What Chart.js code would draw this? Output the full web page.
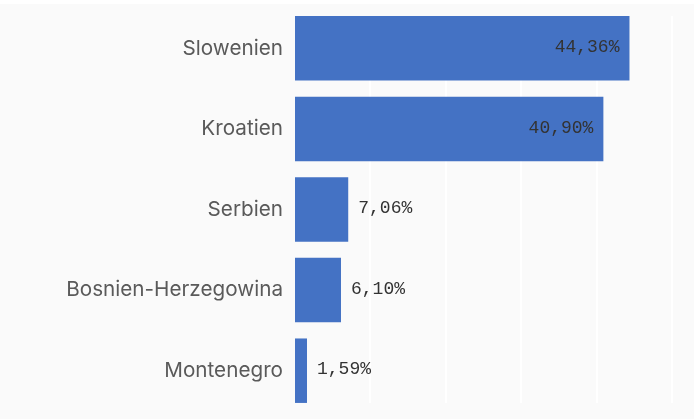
<!DOCTYPE html>
<html>
<head>
<meta charset="utf-8">
<script src="https://cdn.jsdelivr.net/npm/chart.js@4"></script>
<style>
  html, body { margin: 0; padding: 0; background: #ffffff; }
  #wrap { width: 694px; height: 419px; position: relative; }
</style>
</head>
<body>
<div id="wrap"><canvas id="myBarChart"></canvas></div>
<script>
"use strict";

// Countries and their share in percent
const countries = ["Slowenien", "Kroatien", "Serbien", "Bosnien-Herzegowina", "Montenegro"];
const shares = [44.36, 40.90, 7.06, 6.10, 1.59];
const axisTicks = [0, 10, 20, 30, 40, 50];

// Light grey background below a thin white strip
const backgroundPlugin = {
	id: "background",
	beforeDraw(chart) {
		const ctx = chart.ctx;
		ctx.save();
		ctx.fillStyle = "#fafafa";
		ctx.fillRect(0, 4, chart.width, chart.height - 4);
		ctx.restore();
	},
};

// White vertical grid lines, only as tall as the bars reach
const gridPlugin = {
	id: "softGrid",
	beforeDatasetsDraw(chart) {
		const ctx = chart.ctx;
		const bars = chart.getDatasetMeta(0).data;
		const top = bars[0].y - bars[0].height / 2;
		const last = bars[bars.length - 1];
		const bottom = last.y + last.height / 2;
		const xScale = chart.scales.x;
		ctx.save();
		ctx.strokeStyle = "#ffffff";
		ctx.lineWidth = 2;
		axisTicks.forEach(function (t) {
			if (t === 0) return;
			const x = Math.round(xScale.getPixelForValue(t));
			ctx.beginPath();
			ctx.moveTo(x, top);
			ctx.lineTo(x, bottom);
			ctx.stroke();
		});
		ctx.restore();
	},
};

// Value labels: inside the long bars, next to the short ones
const valueLabelPlugin = {
	id: "valueLabels",
	afterDatasetsDraw(chart) {
		const ctx = chart.ctx;
		const bars = chart.getDatasetMeta(0).data;
		ctx.save();
		ctx.font = "18px 'Liberation Mono', 'DejaVu Sans Mono', monospace";
		ctx.fillStyle = "#333333";
		ctx.textBaseline = "middle";
		bars.forEach(function (bar, i) {
			const text = shares[i].toFixed(2).replace(".", ",") + "%";
			if (shares[i] > 20) {
				ctx.textAlign = "right";
				ctx.fillText(text, bar.x - 10, bar.y - 1);
			} else {
				ctx.textAlign = "left";
				ctx.fillText(text, bar.x + 10, bar.y - 1);
			}
		});
		ctx.restore();
	},
};

function generateBarChart() {
	const ctx = document.getElementById("myBarChart");

	new Chart(ctx, {
		type: "bar",
		data: {
			labels: countries,
			datasets: [
				{
					data: shares,
					backgroundColor: "#4472c4",
					borderWidth: 0,
					categoryPercentage: 0.8,
					barPercentage: 1,
				},
			],
		},
		options: {
			indexAxis: "y",
			responsive: true,
			maintainAspectRatio: false,
			animation: false,
			layout: {
				padding: { top: 8, bottom: 8, right: 22, left: 0 },
			},
			scales: {
				x: {
					min: 0,
					max: 50,
					display: false,
					ticks: { stepSize: 10 },
				},
				y: {
					grid: { display: false, drawTicks: false },
					border: { display: false },
					ticks: {
						color: "#5a5a5a",
						padding: 12,
						font: { family: "Inter", size: 20.7 },
					},
					afterFit(scale) {
						scale.width = 295;
						scale.paddingTop = 0;
						scale.paddingBottom = 0;
					},
				},
			},
			plugins: {
				legend: { display: false },
				tooltip: { enabled: false },
			},
		},
		plugins: [backgroundPlugin, gridPlugin, valueLabelPlugin],
	});
}

generateBarChart();
</script>
</body>
</html>
